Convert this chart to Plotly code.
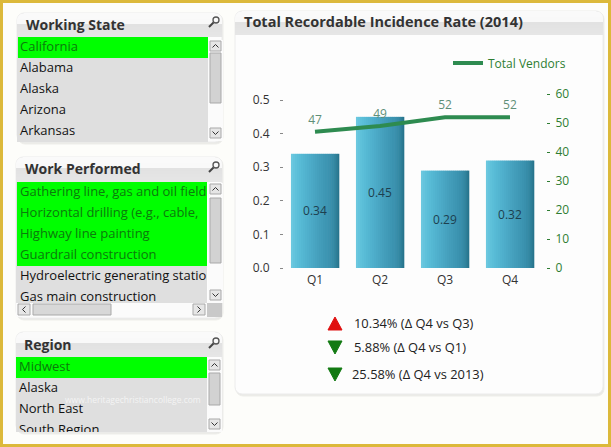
"""Total Recordable Incidence Rate dashboard with three slicer panels, using Plotly."""

import math

import plotly.graph_objects as go

W, H = 611, 447
FONT = "Open Sans"

quarters = ["Q1", "Q2", "Q3", "Q4"]
incidence_rate = [0.34, 0.45, 0.29, 0.32]
total_vendors = [47, 49, 52, 52]

working_states = ["California", "Alabama", "Alaska", "Arizona", "Arkansas"]
work_performed = [
    "Gathering line, gas and oil field",
    "Horizontal drilling (e.g., cable,",
    "Highway line painting",
    "Guardrail construction",
    "Hydroelectric generating station",
    "Gas main construction",
]
regions = ["Midwest", "Alaska", "North East", "South Region"]

delta_labels = [
    "10.34% (Δ Q4 vs Q3)",
    "5.88% (Δ Q4 vs Q1)",
    "25.58% (Δ Q4 vs 2013)",
]
delta_is_up = [True, False, False]

bar_strips = [
    "#6cc8df", "#64c4dd", "#5fc1da", "#5bbed8", "#58bbd6", "#55b8d3", "#53b5d1",
    "#51b2ce", "#4fafcc", "#4dacc9", "#4ba9c6", "#49a6c3", "#47a3c0", "#45a0bd",
    "#439dba", "#419bb8", "#3f98b5", "#3d96b3", "#3b93b0", "#3990ad", "#368ca8",
    "#3287a2", "#2c7f99", "#26758e",
]


def px(x):
    return x / W


def py(y):
    return 1 - y / H


shapes = []
annotations = []


def rect(x0, y0, x1, y1, fill, line=None):
    shapes.append(dict(
        type="rect", xref="paper", yref="paper", layer="below",
        x0=px(x0), x1=px(x1), y0=py(y0), y1=py(y1),
        fillcolor=fill, line=dict(width=1 if line else 0, color=line or fill),
    ))


def polyline(points, color, width=1, fill=None):
    path = "M" + " L".join(f"{px(x):.5f},{py(y):.5f}" for x, y in points)
    if fill:
        path += " Z"
    shapes.append(dict(
        type="path", xref="paper", yref="paper", layer="below", path=path,
        fillcolor=fill, line=dict(width=width, color=color),
    ))


def rounded(x0, y0, x1, y1, r, fill, line):
    pts = []
    corners = [(x1 - r, y0 + r, -90), (x1 - r, y1 - r, 0), (x0 + r, y1 - r, 90), (x0 + r, y0 + r, 180)]
    for cx, cy, start in corners:
        for step in range(5):
            a = math.radians(start + step * 22.5)
            pts.append((cx + r * math.cos(a), cy + r * math.sin(a)))
    polyline(pts, line, 1, fill)


def panel(x0, y0, x1, y1, header_h):
    rounded(x0 + 1, y0 + 1, x1 + 1, y1 + 2, 7, "#e9e9e6", "#eeeeea")
    rounded(x0, y0, x1, y1, 7, "#fdfdfd", "#ececec")
    # glossy header, one strip per pixel row
    for i in range(header_h):
        t = i / max(header_h - 1, 1)
        if t < 0.45:
            level = 250 - int(4 * t)
        else:
            level = 226 + int(8 * (t - 0.45))
        inset = 0
        if i < 7:
            inset = 7 - math.sqrt(49 - (7 - i) ** 2)
        c = f"rgb({level},{level},{level})"
        rect(x0 + inset, y0 + i, x1 - inset, y0 + i + 1, c)


def magnifier(x, y):
    shapes.append(dict(
        type="circle", xref="paper", yref="paper", layer="below",
        x0=px(x - 3), x1=px(x + 3), y0=py(y + 3), y1=py(y - 3),
        line=dict(color="#555555", width=1.3),
    ))
    polyline([(x - 2.5, y + 2.5), (x - 7, y + 7)], "#444444", 2)


def button(x0, y0, x1, y1, kind):
    rect(x0, y0, x1, y1, "#e6e6e6", "#a9a9a9")
    cx, cy = (x0 + x1) / 2, (y0 + y1) / 2
    if kind == "up":
        polyline([(cx - 3, cy + 1.5), (cx, cy - 1.5), (cx + 3, cy + 1.5)], "#333333")
    elif kind == "down":
        polyline([(cx - 3, cy - 1.5), (cx, cy + 1.5), (cx + 3, cy - 1.5)], "#333333")
    elif kind == "left":
        polyline([(cx + 1.5, cy - 3), (cx - 1.5, cy), (cx + 1.5, cy + 3)], "#333333")
    else:
        polyline([(cx - 1.5, cy - 3), (cx + 1.5, cy), (cx - 1.5, cy + 3)], "#333333")


def v_scrollbar(x0, x1, top, bottom, thumb_top, thumb_bottom):
    rect(x0 - 2, top - 1, x1 + 2, bottom + 3, "#fbfbfb")
    button(x0, top, x1, top + 10, "up")
    rect(x0, thumb_top, x1, thumb_bottom, "#d2d2d2", "#a9a9a9")
    button(x0, bottom - 10, x1, bottom, "down")


def title(text, x, y, size):
    annotations.append(dict(
        text=f"<b>{text}</b>", xref="paper", yref="paper", x=px(x), y=py(y),
        xanchor="left", yanchor="middle", showarrow=False,
        font=dict(family=FONT, size=size, color="#333333"),
    ))


# frame
rect(0, 0, 3, H, "#dcb93a")
rect(0, 0, W, 3, "#dcb93a")
rect(W - 3, 0, W, H, "#dcb93a")
rect(0, H - 3, W, H, "#dcb93a")

# Working State slicer
panel(17, 13, 222, 142, 24)
title("Working State", 24, 24, 14)
magnifier(216, 20)
rect(17, 37, 208, 142, "#dfdfdf")
rect(18, 37, 208, 58, "#00ff00")
v_scrollbar(210, 221, 41, 138, 53, 103)

# Work Performed slicer
panel(16, 157, 222, 318, 25)
title("Work Performed", 23, 168, 14)
magnifier(216, 165)
rect(16, 182, 207, 303, "#dfdfdf")
rect(17, 182, 207, 266, "#00ff00")
v_scrollbar(210, 221, 184, 300, 198, 263)
rect(16, 303, 207, 317, "#fbfbfb")
button(18, 304, 30, 315, "left")
rect(33, 304, 111, 315, "#d8d8d8", "#a9a9a9")
button(193, 304, 205, 315, "right")
rect(207, 303, 222, 317, "#c9c9c9")

# Region slicer
panel(16, 332, 222, 432, 25)
title("Region", 22, 344, 14)
magnifier(216, 341)
rect(16, 357, 207, 432, "#dfdfdf")
rect(16, 357, 207, 378, "#00ff00")
v_scrollbar(209, 220, 360, 429, 373, 405)
annotations.append(dict(
    text="www.heritagechristiancollege.com", xref="paper", yref="paper",
    x=px(133), y=py(399), xanchor="center", yanchor="middle", showarrow=False,
    font=dict(family=FONT, size=8.5, color="rgba(255,255,255,0.65)"),
))

# chart panel
panel(235, 11, 603, 394, 24)
title("Total Recordable Incidence Rate (2014)", 242, 22, 14.5)

# delta rows
delta_y = [323, 347, 374]
delta_x = [352, 352, 350]
for label, up, y, x in zip(delta_labels, delta_is_up, delta_y, delta_x):
    if up:
        polyline([(328, y + 7), (342, y + 7), (335, y - 6)], "#e01010", 1, "#e01010")
    else:
        polyline([(328, y - 6), (342, y - 6), (335, y + 7)], "#127a12", 1, "#127a12")
    annotations.append(dict(
        text=label, xref="paper", yref="paper", x=px(x), y=py(y),
        xanchor="left", yanchor="middle", showarrow=False,
        font=dict(family=FONT, size=12.9, color="#222222"),
    ))

fig = go.Figure()

# columns: overlaid narrow strips give the left to right shading
strip_w = 0.74 / len(bar_strips)
for i, color in enumerate(bar_strips):
    fig.add_trace(go.Bar(
        x=quarters, y=incidence_rate, width=strip_w + 0.004,
        offset=-0.37 + i * strip_w, marker=dict(color=color, line=dict(width=0)),
        showlegend=False, hoverinfo="skip",
    ))

# value labels in the middle of the columns
fig.add_trace(go.Bar(
    x=quarters, y=incidence_rate, width=0.74, offset=-0.37,
    marker=dict(color="rgba(0,0,0,0)", line=dict(width=0)),
    text=[f"{v:.2f}" for v in incidence_rate], textposition="inside",
    insidetextanchor="middle", textangle=0,
    textfont=dict(family=FONT, size=12, color="#1d3f4f"),
    showlegend=False, hoverinfo="skip",
))

# transparent markers push the value labels a little further off the line
fig.add_trace(go.Scatter(
    x=quarters, y=total_vendors, yaxis="y2", mode="lines+markers+text",
    name="Total Vendors", line=dict(color="#2e8b50", width=4),
    marker=dict(size=6, color="rgba(0,0,0,0)", line=dict(width=0)),
    text=[str(v) for v in total_vendors], textposition="top center",
    textfont=dict(family=FONT, size=12, color="#5f8f78"),
))

# slicer rows, on their own axes so that long text is cut at the list edge
lists = [
    (working_states, 1, (17, 208), (37, 142), 1),
    (work_performed, 4, (17, 207), (182, 303), 2),
    (regions, 1, (16, 207), (357, 432), 3),
]
for items, selected, xspan, yspan, n in lists:
    colors = ["#0c7a0c" if i < selected else "#111111" for i in range(len(items))]
    fig.add_trace(go.Scatter(
        x=[0] * len(items), y=list(range(len(items))),
        xaxis=f"x{n + 1}", yaxis=f"y{n + 2}",
        mode="text", text=items, textposition="middle right",
        textfont=dict(family=FONT, size=13, color=colors),
        showlegend=False, hoverinfo="skip",
    ))
    fig.layout[f"xaxis{n + 1}"] = dict(
        domain=[px(xspan[0]), px(xspan[1])], range=[-3, xspan[1] - xspan[0] - 3],
        visible=False, anchor=f"y{n + 2}", fixedrange=True,
    )
    rows = (yspan[1] - yspan[0]) / 21
    fig.layout[f"yaxis{n + 2}"] = dict(
        domain=[py(yspan[1]), py(yspan[0])], range=[rows - 0.5, -0.5],
        visible=False, anchor=f"x{n + 1}", fixedrange=True,
    )

fig.update_layout(
    width=W,
    height=H,
    margin=dict(l=0, r=0, t=0, b=0, autoexpand=False),
    paper_bgcolor="#fdfdfa",
    plot_bgcolor="rgba(0,0,0,0)",
    barmode="overlay",
    shapes=shapes,
    annotations=annotations,
    font=dict(family=FONT, size=12, color="#333333"),
    xaxis=dict(
        domain=[px(284), px(546)], range=[-0.477, 3.554], anchor="y",
        showgrid=False, showline=False, ticks="", zeroline=False,
        ticklabelstandoff=3, tickfont=dict(size=12, color="#333333"),
    ),
    yaxis=dict(
        domain=[py(268), py(94)], range=[0, 0.518], dtick=0.1, tickformat=".1f",
        showgrid=False, showline=False, zeroline=False, ticks="outside", ticklen=3,
        tickcolor="#888888", ticklabelstandoff=8, tickfont=dict(size=12, color="#333333"),
    ),
    yaxis2=dict(
        domain=[py(268), py(94)], range=[0, 60], dtick=10, overlaying="y", side="right",
        showgrid=False, showline=False, zeroline=False, ticks="outside", ticklen=3,
        tickcolor="#2e7d32", ticklabelstandoff=3, tickfont=dict(size=12, color="#2e7d32"),
    ),
    showlegend=True,
    legend=dict(
        x=px(571), y=py(63), xanchor="right", yanchor="middle",
        bgcolor="rgba(0,0,0,0)", itemwidth=30,
        font=dict(family=FONT, size=12, color="#2e7d32"),
    ),
)

fig.write_html(
    "out.html",
    config={"displayModeBar": False},
    post_script="document.body.style.margin='0';",
)
